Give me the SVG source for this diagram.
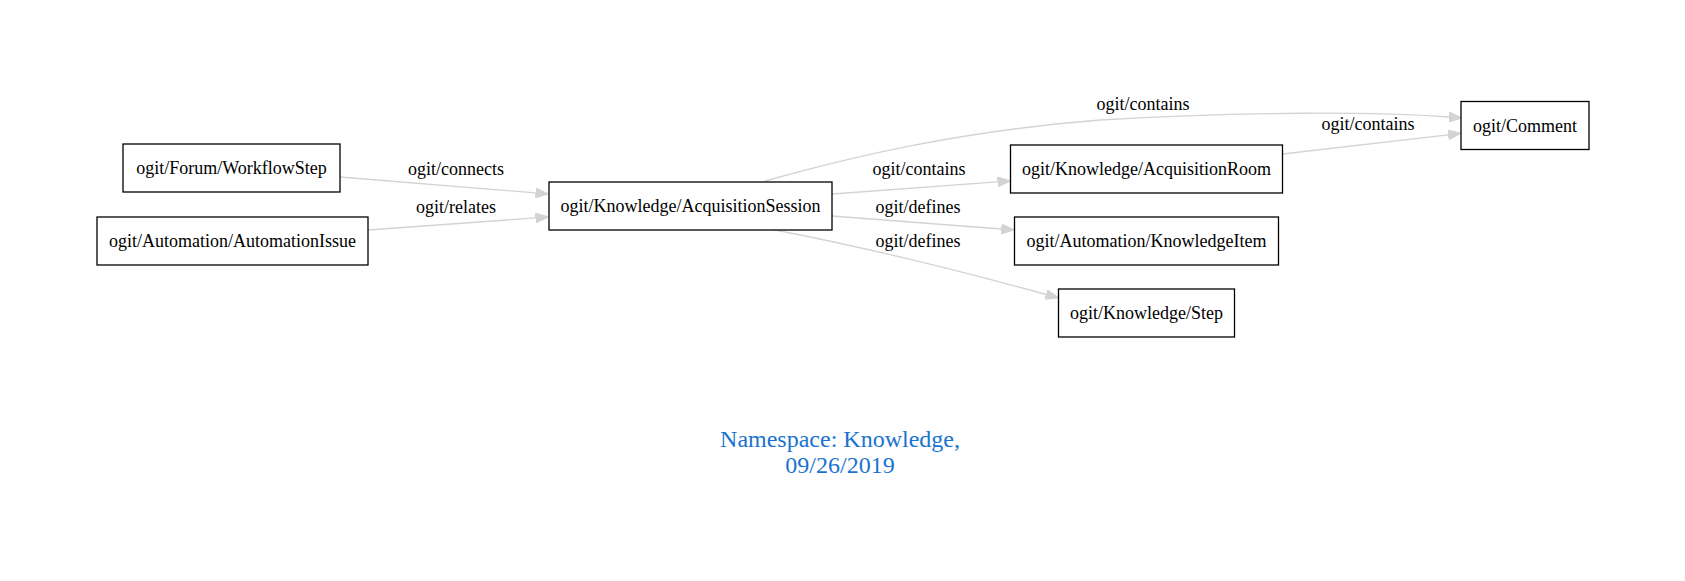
<svg xmlns="http://www.w3.org/2000/svg" width="1685" height="581" viewBox="0 0 1685 581">
<defs>
<style>
.node rect{fill:#fff;stroke:#000;stroke-width:1.3}
text{font-family:"Liberation Serif","Times New Roman",serif;font-size:18px;fill:#000;text-anchor:middle}
.edge{fill:none;stroke:#d3d3d3;stroke-width:1.3}
.caption{font-size:24px;fill:#1a73d0}
</style>
<marker id="arr" viewBox="0 0 13 10" refX="0" refY="5" markerWidth="13" markerHeight="10" markerUnits="userSpaceOnUse" orient="auto">
<path d="M0,0 L13,5 L0,10 z" fill="#d3d3d3" stroke="#d3d3d3" stroke-width="1"/>
</marker>
</defs>
<rect width="1685" height="581" fill="#fff"/>
<g id="connectors">
<path class="edge" marker-end="url(#arr)" d="M340,177 L535.5,192.9"/>
<text x="456" y="175">ogit/connects</text>
<path class="edge" marker-end="url(#arr)" d="M368,230 L535.5,217.9"/>
<text x="456" y="213">ogit/relates</text>
<path class="edge" marker-end="url(#arr)" d="M765,181 C850,157 960,131 1100,120 C1250,111 1380,112 1449,117"/>
<text x="1143" y="110">ogit/contains</text>
<path class="edge" marker-end="url(#arr)" d="M832,194 L997.5,181.9"/>
<text x="919" y="175">ogit/contains</text>
<path class="edge" marker-end="url(#arr)" d="M832,216 L1001.3,229"/>
<text x="918" y="213">ogit/defines</text>
<path class="edge" marker-end="url(#arr)" d="M770,229 Q900,254 1046,294.5"/>
<text x="918" y="247">ogit/defines</text>
<path class="edge" marker-end="url(#arr)" d="M1282.5,154 L1448.1,134.8"/>
<text x="1368" y="130">ogit/contains</text>
</g>
<g id="n_workflowstep" class="node"><rect x="123" y="144" width="217" height="48"/><text x="231.5" y="174">ogit/Forum/WorkflowStep</text></g>
<g id="n_automationissue" class="node"><rect x="97" y="217" width="271" height="48"/><text x="232.5" y="247">ogit/Automation/AutomationIssue</text></g>
<g id="n_session" class="node"><rect x="549" y="182" width="283" height="48"/><text x="690.5" y="212">ogit/Knowledge/AcquisitionSession</text></g>
<g id="n_room" class="node"><rect x="1010.5" y="145" width="272" height="48"/><text x="1146.5" y="175">ogit/Knowledge/AcquisitionRoom</text></g>
<g id="n_item" class="node"><rect x="1014.5" y="217" width="264" height="48"/><text x="1146.5" y="247">ogit/Automation/KnowledgeItem</text></g>
<g id="n_step" class="node"><rect x="1058.5" y="289" width="176" height="48"/><text x="1146.5" y="319">ogit/Knowledge/Step</text></g>
<g id="n_comment" class="node"><rect x="1461" y="101.5" width="128" height="48"/><text x="1525" y="131.5">ogit/Comment</text></g>
<g id="caption">
<text class="caption" x="840" y="447">Namespace: Knowledge,</text>
<text class="caption" x="840" y="473">09/26/2019</text>
</g>
</svg>
